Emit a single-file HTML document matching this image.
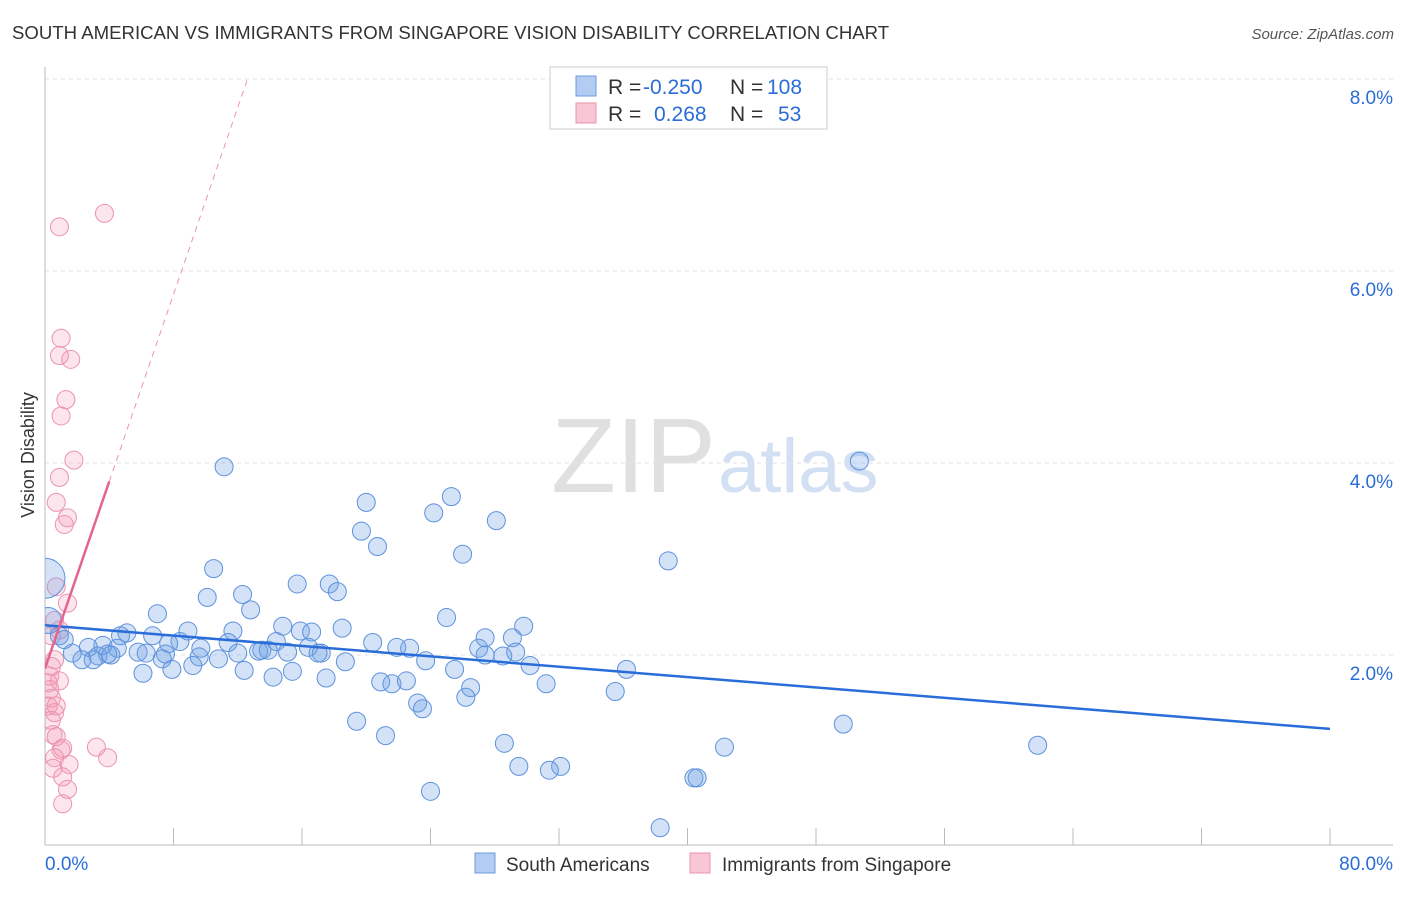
<!DOCTYPE html>
<html><head><meta charset="utf-8"><style>
body{margin:0;background:#fff;font-family:"Liberation Sans",sans-serif}
svg text{font-family:"Liberation Sans",sans-serif}
</style></head><body>
<svg id="c" width="1406" height="892">
<defs><clipPath id="pa"><rect x="45" y="60" width="1360" height="785"/></clipPath></defs>
<text x="12" y="39" font-size="18.6" fill="#333">SOUTH AMERICAN VS IMMIGRANTS FROM SINGAPORE VISION DISABILITY CORRELATION CHART</text>
<text x="1394" y="39" font-size="15" fill="#555" text-anchor="end" font-style="italic">Source: ZipAtlas.com</text>
<text x="716" y="492" font-size="106" fill="#e0e0e0" text-anchor="end" font-family="Liberation Serif">ZIP</text>
<text x="718" y="492" font-size="76" fill="#d3e0f4">atlas</text>
<text transform="translate(34,455) rotate(-90)" font-size="18" fill="#333" text-anchor="middle">Vision Disability</text>
<g id="grid"></g><g id="marks" clip-path="url(#pa)"></g>
<g>
<rect x="550" y="67" width="277" height="62" fill="#fff" stroke="#ccc"/>
<rect x="576" y="76" width="20" height="20" fill="#b3cdf2" stroke="#6d9be0"/>
<rect x="576" y="103" width="20" height="20" fill="#f8c6d4" stroke="#ec93ad"/>
<text y="94" font-size="21" fill="#333"><tspan x="608">R =</tspan><tspan x="643" fill="#2a6dd9">-0.250</tspan><tspan x="730">N =</tspan><tspan x="767" fill="#2a6dd9">108</tspan></text>
<text y="121" font-size="21" fill="#333"><tspan x="608">R =</tspan><tspan x="654" fill="#2a6dd9">0.268</tspan><tspan x="730">N =</tspan><tspan x="778" fill="#2a6dd9">53</tspan></text>
</g>
<g>
<rect x="475" y="853" width="20" height="20" fill="#b3cdf2" stroke="#6d9be0"/>
<text x="506" y="871" font-size="19" fill="#333">South Americans</text>
<rect x="690" y="853" width="20" height="20" fill="#f8c6d4" stroke="#ec93ad"/>
<text x="722" y="871" font-size="19" fill="#333">Immigrants from Singapore</text>
</g>
</svg>
<script>
const xTicks=[0,8,16,24,32,40,48,56,64,72,80];
const yTicks=[2,4,6,8];
const yLabels=["2.0%","4.0%","6.0%","8.0%"];
const xLabels=["0.0%","80.0%"];
const blueX=[11.15,50.7,20.0,25.3,24.2,28.1,19.7,20.7,26.0,38.8,10.5,15.7,17.7,18.2,10.1,12.3,12.8,7.0,25.0,29.8,14.8,11.7,18.5,15.9,16.6,27.4,5.1,6.7,8.9,4.7,29.1,8.4,14.4,20.4,11.4,7.7,0.9,1.2,3.6,2.7,4.5,9.7,16.4,21.9,22.7,27.0,13.5,13.3,13.9,17.2,17.0,15.1,5.8,6.3,7.5,12.0,1.7,4.1,3.3,3.9,2.3,3.0,27.4,28.5,29.3,9.6,10.8,7.3,23.7,18.7,30.2,36.2,25.5,9.2,7.9,6.1,12.4,15.4,14.2,17.5,31.2,20.9,21.6,22.5,26.5,26.2,35.5,23.2,23.5,19.4,49.7,21.2,28.6,42.3,61.8,29.5,32.1,31.4,40.4,40.6,24.0,38.3,0.2,0.0];
const blueY=[3.96,4.02,3.59,3.65,3.48,3.40,3.29,3.13,3.05,2.98,2.90,2.74,2.74,2.66,2.60,2.63,2.47,2.43,2.39,2.30,2.30,2.25,2.28,2.25,2.24,2.18,2.23,2.20,2.25,2.20,2.18,2.14,2.14,2.13,2.13,2.12,2.20,2.16,2.10,2.08,2.07,2.07,2.08,2.08,2.07,2.07,2.05,2.04,2.05,2.02,2.02,2.03,2.03,2.02,2.01,2.02,2.02,2.00,1.99,2.01,1.95,1.95,2.00,1.99,2.03,1.98,1.96,1.96,1.94,1.93,1.89,1.85,1.85,1.89,1.85,1.81,1.84,1.83,1.77,1.76,1.70,1.72,1.70,1.73,1.66,1.56,1.62,1.50,1.44,1.31,1.28,1.16,1.08,1.04,1.06,0.84,0.84,0.80,0.72,0.72,0.58,0.20,2.36,2.80];
const blueR=blueX.map((v,i)=>i==blueX.length-1?20:(i==blueX.length-2?13:9));
const pinkX=[3.7,0.9,1.0,0.9,1.6,1.3,1.0,1.8,0.9,0.7,1.4,1.2,0.7,1.4,0.6,0.9,0.4,0.6,0.4,0.3,0.2,0.9,0.3,0.4,0.2,0.7,0.6,0.4,0.5,0.7,1.0,1.1,3.2,3.9,0.6,0.5,1.5,1.1,1.4,1.1];
const pinkY=[6.60,6.46,5.30,5.12,5.08,4.66,4.49,4.03,3.85,3.59,3.43,3.36,2.71,2.54,2.36,2.26,2.20,1.95,1.88,1.78,1.71,1.73,1.64,1.55,1.47,1.47,1.40,1.32,1.17,1.15,1.01,1.03,1.04,0.93,0.93,0.82,0.86,0.73,0.60,0.45];
const blueTrend=[2.31,1.23];
const pinkTrend=[1.86,0.487];
const X=v=>45+v/80*1285, Y=v=>847-v*96;
const NS="http://www.w3.org/2000/svg";
function mk(p,t,a){const e=document.createElementNS(NS,t);for(const k in a)e.setAttribute(k,a[k]);p.appendChild(e);return e;}
const g=document.getElementById('grid'),m=document.getElementById('marks');
yTicks.forEach((t,i)=>{
 const l=mk(g,'line',{x1:45,x2:1393,y1:Y(t),y2:Y(t),stroke:'#e2e2e2','stroke-dasharray':'4,4'});
 
 
 const tx=mk(g,'text',{x:1393,y:Y(t)+25,'font-size':19,fill:'#2a6dd9','text-anchor':'end'});tx.textContent=yLabels[i];
 
 
});
mk(g,'line',{x1:45,x2:45,y1:67,y2:845,stroke:'#bbb'});
mk(g,'line',{x1:45,x2:1393,y1:845,y2:845,stroke:'#bbb'});
xTicks.forEach(t=>{const l=mk(g,'line',{x1:X(t),x2:X(t),y1:828,y2:845,stroke:'#bbb'});
 
 });
const xl0=mk(g,'text',{x:45,y:870,'font-size':19,fill:'#2a6dd9'});xl0.textContent=xLabels[0];


const xl1=mk(g,'text',{x:1393,y:870,'font-size':19,fill:'#2a6dd9','text-anchor':'end'});xl1.textContent=xLabels[1];


pinkX.forEach((v,i)=>{const c=mk(m,'circle',{cx:X(v),cy:Y(pinkY[i]),r:9,fill:'rgba(245,150,180,0.25)',stroke:'#eb94ae','stroke-width':1});
 
 });
blueX.forEach((v,i)=>{const c=mk(m,'circle',{cx:X(v),cy:Y(blueY[i]),r:blueR[i],fill:'rgba(110,160,230,0.3)',stroke:'#5d92dc','stroke-width':1});
 
 });
const bt=mk(m,'line',{x1:X(0),y1:Y(blueTrend[0]),x2:X(80),y2:Y(blueTrend[1]),stroke:'#2a6dd9','stroke-width':2.5});


const xe=(8-pinkTrend[0])/pinkTrend[1];
const pd=mk(m,'line',{x1:X(4),y1:Y(pinkTrend[0]+pinkTrend[1]*4),x2:X(xe),y2:Y(8),stroke:'#eb94ae','stroke-width':1,'stroke-dasharray':'6,5'});


const pt=mk(m,'line',{x1:X(0),y1:Y(pinkTrend[0]),x2:X(4),y2:Y(pinkTrend[0]+pinkTrend[1]*4),stroke:'#e5648e','stroke-width':2.5});


</script>
</body></html>
